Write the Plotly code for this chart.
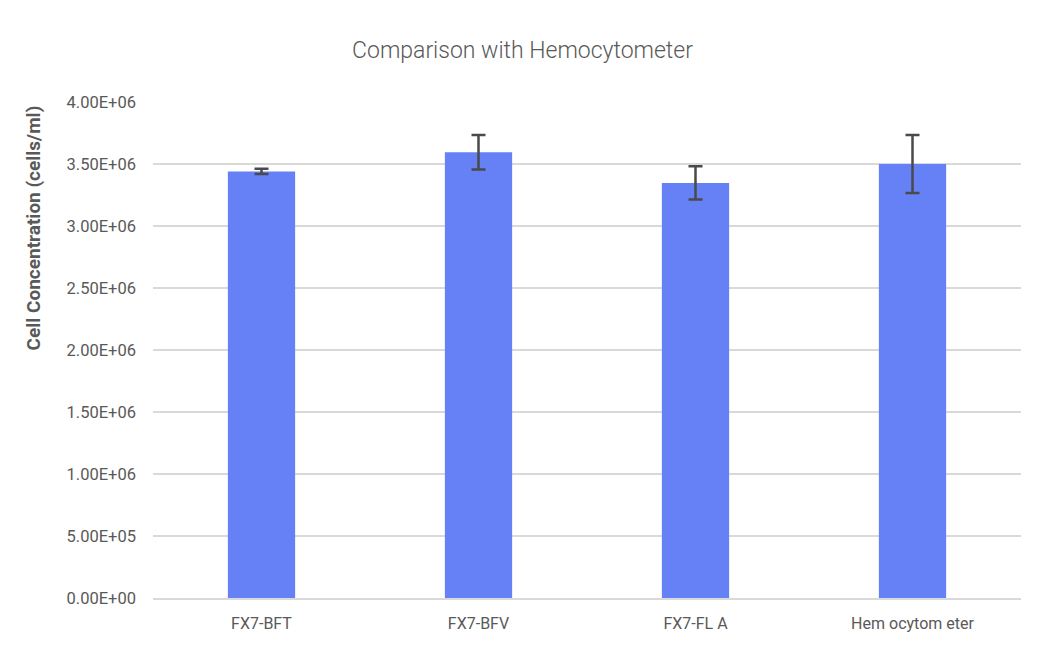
import plotly.graph_objects as go

categories = ["FX7-BFT", "FX7-BFV", "FX7-FL A", "Hem ocytom eter"]
values = [3.44e6, 3.594e6, 3.347e6, 3.50e6]
errors = [0.021e6, 0.139e6, 0.134e6, 0.233e6]
tick_vals = [0, 0.5e6, 1.0e6, 1.5e6, 2.0e6, 2.5e6, 3.0e6, 3.5e6, 4.0e6]
tick_text = ["0.00E+00", "5.00E+05", "1.00E+06", "1.50E+06", "2.00E+06",
             "2.50E+06", "3.00E+06", "3.50E+06", "4.00E+06"]

fig = go.Figure()
fig.add_trace(go.Bar(
    x=categories, y=values,
    marker=dict(color="#6680F5", line=dict(width=0)),
    error_y=dict(type="data", array=errors, visible=True,
                 color="#4a4a4a", thickness=2.5, width=7),
    width=0.31,
))

fig.update_layout(
    width=1045, height=649,
    margin=dict(l=153, r=24, t=102, b=51),
    paper_bgcolor="white", plot_bgcolor="white",
    font=dict(family="Roboto", color="#595959", size=16),
    title=dict(text="Comparison with Hemocytometer", x=0.5, xanchor="center",
               y=0.923, yanchor="middle",
               font=dict(family="Roboto", size=23, color="#595959", weight=300)),
    showlegend=False,
    xaxis=dict(showgrid=False, showline=True, linecolor="#d9d9d9", linewidth=2,
               ticks="", ticklabelstandoff=10,
               tickfont=dict(size=16, color="#595959")),
    yaxis=dict(range=[0, 4.0e6], tickvals=tick_vals, ticktext=tick_text,
               showgrid=True, gridcolor="#d9d9d9", gridwidth=2,
               zeroline=False, showline=False, ticks="",
               ticklabelstandoff=16,
               tickfont=dict(size=16.5, color="#595959")),
    annotations=[dict(text="<b>Cell Concentration (cells/ml)</b>",
                      xref="paper", yref="paper",
                      x=-153 / 871 + 33 / 871, y=(598 - 228) / 496,
                      xanchor="center", yanchor="middle", textangle=-90,
                      showarrow=False,
                      font=dict(family="Roboto", size=19, color="#595959"))],
)

fig.write_html("out.html")
